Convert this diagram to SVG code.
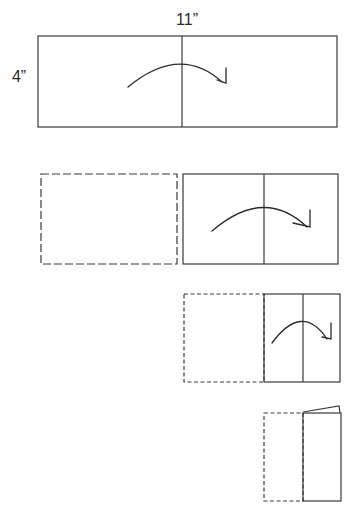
<svg xmlns="http://www.w3.org/2000/svg" width="351" height="511" viewBox="0 0 351 511">
<defs>
<style>
.s{fill:none;stroke:#3a3a3a;stroke-width:1.2}
.d1{fill:none;stroke:#3a3a3a;stroke-width:1.2;stroke-dasharray:8 3}
.d2{fill:none;stroke:#3a3a3a;stroke-width:1.2;stroke-dasharray:4 2.5}
.a{fill:none;stroke:#2a2a2a;stroke-width:1.3;stroke-linecap:round}
.t{font-family:"Liberation Sans",Arial,sans-serif;font-size:16px;fill:#2a2a2a}
</style>
</defs>
<rect width="351" height="511" fill="#fff"/>
<g id="step1">
<text class="t" x="187" y="25" text-anchor="middle">11”</text>
<text class="t" x="19" y="82" text-anchor="middle">4”</text>
<rect class="s" x="38" y="36" width="299" height="91"/>
<line class="s" x1="182" y1="36" x2="182" y2="127"/>
<path class="a" d="M128,87 Q180,44 222,82"/>
<path class="a" d="M226,68 L226,83 L217,80"/>
</g>
<g id="step2">
<rect class="d1" x="41" y="174" width="136" height="90"/>
<rect class="s" x="183" y="174" width="155" height="90"/>
<line class="s" x1="264" y1="174" x2="264" y2="264"/>
<path class="a" d="M212,231 Q264,186 307,227"/>
<path class="a" d="M310,210 L310,227 L293,223"/>
</g>
<g id="step3">
<rect class="d2" x="184" y="294" width="80" height="88"/>
<rect class="s" x="264" y="294" width="76" height="88"/>
<line class="s" x1="303" y1="294" x2="303" y2="382"/>
<path class="a" d="M272,343 Q302,302 327,339"/>
<path class="a" d="M331,323 L331,339 L322,337"/>
</g>
<g id="step4">
<rect class="d2" x="264" y="413" width="39" height="88"/>
<rect class="s" x="303" y="413" width="38" height="88"/>
<path class="s" d="M303,412 L339,406 L340,413"/>
</g>
</svg>
